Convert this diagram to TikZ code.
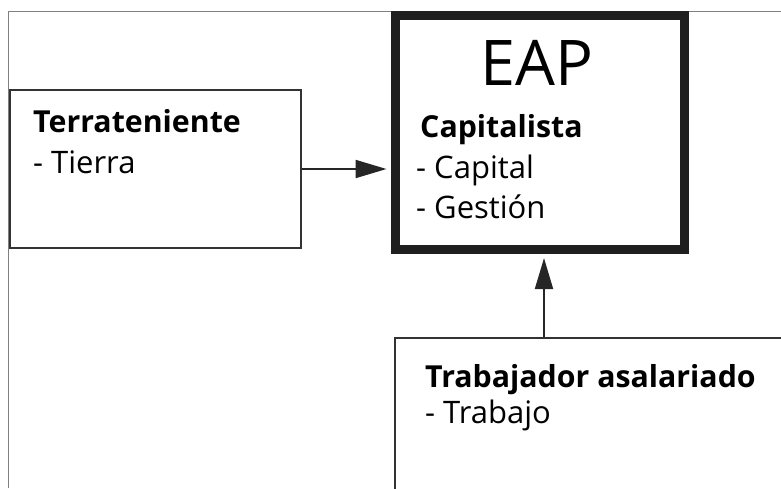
\documentclass[tikz,border=0pt]{standalone}
\usepackage{fontspec}
\setmainfont{Open Sans}
\usetikzlibrary{arrows.meta}

\begin{document}
\begin{tikzpicture}
	[
	x=1pt, y=-1pt,
	box/.style={draw=black!80, line width=2pt, rectangle, inner sep=0pt},
	mainbox/.style={draw=black!88, line width=9pt, rectangle, inner sep=0pt},
	head/.style={anchor=base west, inner sep=0pt, font=\fontsize{30.3}{32}\selectfont\bfseries},
	item/.style={anchor=base west, inner sep=0pt, font=\fontsize{31}{33}\selectfont},
	link/.style={-{Triangle[length=31pt, width=18pt]}, line width=2pt, draw=black!85},
	]
		\useasboundingbox (0,0) rectangle (781,488);
		\clip (0,0) rectangle (781,488);
		
		% frame
		\draw[gray, line width=1pt] (8,488) -- (8,11) -- (781,11);
		
		% boxes
		\node[box, minimum width=291pt, minimum height=158pt] (terr) at 		(155.5, 169.0) {};
		\node[mainbox, minimum width=289pt, minimum height=233.5pt] (eap) at 		(540.0, 132.3) {};
		\node[box, minimum width=420pt, minimum height=200pt] (trab) at 		(605.0, 438.0) {};
		
		% left-hand side
		\node[head] (terrh) at 		( 33, 132 ) {Terrateniente};
		\node[item] (terri) at 		( 33, 173 ) {- Tierra};
		
		% centre
		\node[anchor=base, inner sep=0pt, font=\fontsize{63}{65}\selectfont] (eapt) at 		( 537,  85 ) {EAP};
		\node[head] (caph) at 		( 420, 137 ) {Capitalista};
		\node[item] (capi) at 		( 416, 178 ) {- Capital};
		\node[item] (gesi) at 		( 416, 218 ) {- Gestión};
		
		% bottom
		\node[head] (trabh) at 		( 425, 387 ) {Trabajador asalariado};
		\node[item] (trabi) at 		( 425, 423 ) {- Trabajo};
		
		\draw[link, shorten >=4.5pt] (terr.east) -- (terr.east -| eap.west);
		\draw[link, shorten >=4.5pt] ([xshift=4pt]eap.south |- trab.north) -- ([xshift=4pt]eap.south);
		
	\end{tikzpicture}
\end{document}
